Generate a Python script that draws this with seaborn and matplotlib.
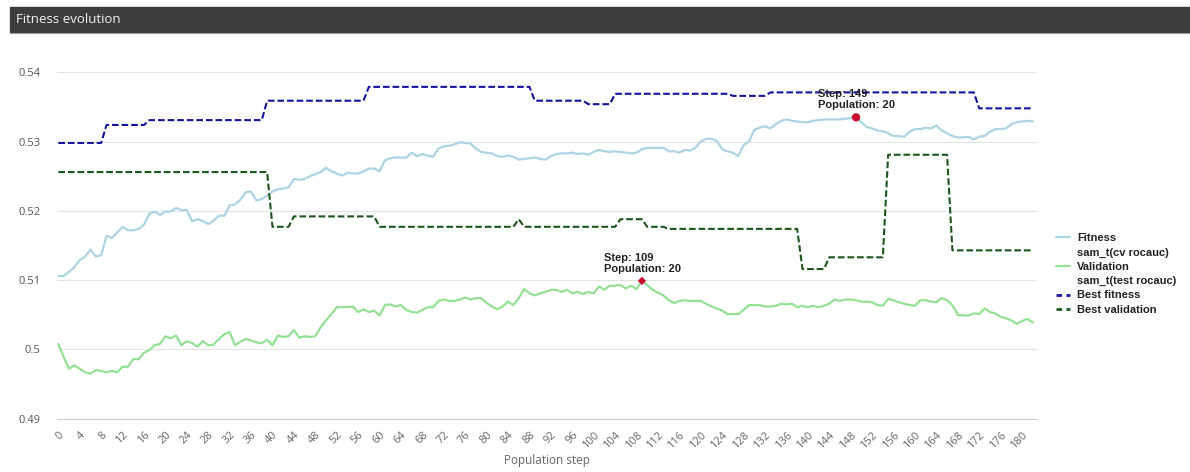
import numpy as np
import pandas as pd
import matplotlib
matplotlib.use("Agg")
import matplotlib.pyplot as plt
from matplotlib.lines import Line2D
from matplotlib.patches import Rectangle
import seaborn as sns

# ---------------- data ----------------
fitness = [
    0.5106, 0.5106, 0.5112, 0.5119, 0.5129, 0.5134, 0.5144, 0.5134, 0.5136, 0.5164,
    0.5161, 0.5169, 0.5177, 0.5172, 0.5172, 0.5174, 0.5180, 0.5196, 0.5199, 0.5194,
    0.5199, 0.5199, 0.5204, 0.5201, 0.5201, 0.5185, 0.5188, 0.5185, 0.5181, 0.5186,
    0.5193, 0.5193, 0.5208, 0.5209, 0.5216, 0.5227, 0.5228, 0.5215, 0.5217, 0.5222,
    0.5228, 0.5231, 0.5232, 0.5234, 0.5246, 0.5245, 0.5246, 0.5250, 0.5253, 0.5256,
    0.5262, 0.5257, 0.5254, 0.5251, 0.5255, 0.5254, 0.5254, 0.5257, 0.5261, 0.5261,
    0.5257, 0.5273, 0.5276, 0.5277, 0.5277, 0.5277, 0.5284, 0.5279, 0.5282, 0.5280,
    0.5278, 0.5290, 0.5293, 0.5294, 0.5296, 0.5299, 0.5298, 0.5297, 0.5290, 0.5285,
    0.5284, 0.5283, 0.5279, 0.5278, 0.5280, 0.5278, 0.5274, 0.5275, 0.5276, 0.5277,
    0.5275, 0.5274, 0.5279, 0.5282, 0.5283, 0.5283, 0.5284, 0.5282, 0.5283, 0.5281,
    0.5285, 0.5288, 0.5286, 0.5285, 0.5286, 0.5285, 0.5284, 0.5283, 0.5284, 0.5289,
    0.5291, 0.5291, 0.5291, 0.5291, 0.5286, 0.5286, 0.5284, 0.5288, 0.5287, 0.5291,
    0.5300, 0.5304, 0.5304, 0.5301, 0.5289, 0.5286, 0.5284, 0.5279, 0.5295, 0.5300,
    0.5317, 0.5320, 0.5322, 0.5319, 0.5325, 0.5330, 0.5332, 0.5330, 0.5329, 0.5328,
    0.5328, 0.5330, 0.5331, 0.5332, 0.5332, 0.5332, 0.5332, 0.5333, 0.5334, 0.5335,
    0.5328, 0.5321, 0.5319, 0.5316, 0.5315, 0.5312, 0.5308, 0.5308, 0.5307, 0.5314,
    0.5318, 0.5318, 0.5320, 0.5319, 0.5323, 0.5316, 0.5312, 0.5308, 0.5306, 0.5306,
    0.5307, 0.5303, 0.5307, 0.5308, 0.5314, 0.5318, 0.5318, 0.5319, 0.5325, 0.5328,
    0.5329, 0.5330, 0.5329,
]

validation = [
    0.5008, 0.4989, 0.4972, 0.4977, 0.4972, 0.4967, 0.4965, 0.4970, 0.4969, 0.4967,
    0.4969, 0.4967, 0.4975, 0.4975, 0.4986, 0.4986, 0.4995, 0.4999, 0.5006, 0.5008,
    0.5019, 0.5016, 0.5020, 0.5006, 0.5012, 0.5009, 0.5004, 0.5012, 0.5006, 0.5007,
    0.5015, 0.5022, 0.5025, 0.5006, 0.5011, 0.5015, 0.5013, 0.5010, 0.5009, 0.5014,
    0.5006, 0.5020, 0.5018, 0.5019, 0.5028, 0.5017, 0.5019, 0.5018, 0.5019, 0.5032,
    0.5042, 0.5051, 0.5061, 0.5061, 0.5061, 0.5062, 0.5054, 0.5058, 0.5054, 0.5056,
    0.5049, 0.5064, 0.5065, 0.5062, 0.5064, 0.5057, 0.5054, 0.5053, 0.5057, 0.5061,
    0.5061, 0.5070, 0.5072, 0.5070, 0.5070, 0.5072, 0.5075, 0.5072, 0.5074, 0.5074,
    0.5067, 0.5062, 0.5058, 0.5062, 0.5069, 0.5064, 0.5074, 0.5087, 0.5081, 0.5078,
    0.5081, 0.5083, 0.5086, 0.5086, 0.5083, 0.5086, 0.5081, 0.5083, 0.5080, 0.5083,
    0.5081, 0.5091, 0.5086, 0.5092, 0.5092, 0.5093, 0.5088, 0.5092, 0.5087, 0.5099,
    0.5093, 0.5086, 0.5082, 0.5078, 0.5071, 0.5067, 0.5070, 0.5071, 0.5070, 0.5070,
    0.5070, 0.5066, 0.5062, 0.5059, 0.5056, 0.5051, 0.5051, 0.5051, 0.5057, 0.5064,
    0.5064, 0.5064, 0.5062, 0.5062, 0.5063, 0.5066, 0.5065, 0.5066, 0.5061, 0.5063,
    0.5061, 0.5063, 0.5061, 0.5063, 0.5066, 0.5072, 0.5070, 0.5072, 0.5072, 0.5071,
    0.5069, 0.5069, 0.5068, 0.5064, 0.5063, 0.5073, 0.5071, 0.5068, 0.5066, 0.5064,
    0.5063, 0.5071, 0.5071, 0.5069, 0.5068, 0.5074, 0.5071, 0.5064, 0.5050, 0.5049,
    0.5049, 0.5052, 0.5051, 0.5059, 0.5054, 0.5052, 0.5047, 0.5045, 0.5042, 0.5037,
    0.5041, 0.5044, 0.5039,
]

# best-so-far curves: level values and the step where each level begins
best_fitness_levels = [0.5298, 0.5324, 0.5331, 0.5359, 0.5379, 0.5359, 0.5354,
                       0.5369, 0.5366, 0.5371, 0.5348]
best_fitness_starts = [0, 9, 17, 39, 58, 89, 99, 104, 126, 133, 172]

best_validation_levels = [0.5256, 0.5177, 0.5192, 0.5177, 0.5188, 0.5177, 0.5188,
                          0.5177, 0.5174, 0.5116, 0.5133, 0.5281, 0.5143]
best_validation_starts = [0, 40, 44, 60, 86, 87, 105, 110, 114, 139, 144, 155, 167]

population = 20
ytick_values = [0.49, 0.50, 0.51, 0.52, 0.53, 0.54]
ytick_labels = ["0.49", "0.5", "0.51", "0.52", "0.53", "0.54"]
xtick_step = 4

legend_labels = ["Fitness", "sam_t(cv rocauc)", "Validation", "sam_t(test rocauc)",
                 "Best fitness", "Best validation"]

# ---------------- build frame ----------------
n = len(fitness)
steps = np.arange(n)


def expand(levels, starts, total):
    lengths = np.diff(list(starts) + [total])
    return np.repeat(levels, lengths)


df = pd.DataFrame({
    "step": steps,
    "fitness": fitness,
    "validation": validation,
    "best_fitness": expand(best_fitness_levels, best_fitness_starts, n),
    "best_validation": expand(best_validation_levels, best_validation_starts, n),
})

# ---------------- style ----------------
sns.set_theme(style="white")
plt.rcParams['font.family'] = ['Open Sans', 'DejaVu Sans']

W, H = 1190, 472
fig = plt.figure(figsize=(W / 100, H / 100), dpi=100)
fig.patch.set_facecolor("white")

ax_left, ax_right, ax_bottom, ax_top = 57, 1037, 418.7, 55
ax = fig.add_axes([ax_left / W, 1 - ax_bottom / H,
                   (ax_right - ax_left) / W, (ax_bottom - ax_top) / H])
ax.set_facecolor("white")

c_fit = "#acd4e2"
c_val = "#93e193"
c_bfit = "#1515a0"
c_bval = "#1d561d"
dash = (0, (3.2, 1.4))

sns.lineplot(data=df, x="step", y="fitness", ax=ax, color=c_fit, lw=1.6,
             estimator=None, zorder=3)
sns.lineplot(data=df, x="step", y="validation", ax=ax, color=c_val, lw=1.6,
             estimator=None, zorder=3)
sns.lineplot(data=df, x="step", y="best_fitness", ax=ax, color=c_bfit, lw=1.5,
             linestyle=dash, estimator=None, zorder=4)
sns.lineplot(data=df, x="step", y="best_validation", ax=ax, color=c_bval, lw=1.5,
             linestyle=dash, estimator=None, zorder=4)

# highlighted maxima
i_fit = int(np.argmax(df["fitness"].values))
i_val = int(np.argmax(df["validation"].values))
sns.scatterplot(x=[i_fit], y=[df["fitness"].values[i_fit]], ax=ax, marker="o",
                s=36, color="#c8102e", edgecolor="none", zorder=6)
sns.scatterplot(x=[i_val], y=[df["validation"].values[i_val]], ax=ax, marker="D",
                s=18, color="#c8102e", edgecolor="none", zorder=6)

ann_font = dict(fontsize=8, fontweight="bold", color="#222222",
                family=["Liberation Sans", "DejaVu Sans"], linespacing=1.15)
for idx, col in ((i_fit, "fitness"), (i_val, "validation")):
    ax.annotate(f"Step: {idx}\nPopulation: {population}",
                xy=(idx, df[col].values[idx]), xytext=(-38, 7),
                textcoords="offset pixels", ha="left", va="bottom",
                zorder=7, **ann_font)

# axes
ax.set_xlim(-0.25, 182.8)
ax.set_ylim(0.49, 0.5425)
ax.set_yticks(ytick_values)
ax.set_yticklabels(ytick_labels)
xt = steps[::xtick_step]
ax.set_xticks(xt)
ax.set_xticklabels([str(v) for v in xt], rotation=45, ha="right",
                   rotation_mode="anchor")
ax.tick_params(axis="both", length=0, colors="#555555", labelsize=8)
ax.tick_params(axis="x", pad=8, colors="#666666")
ax.tick_params(axis="y", pad=12)
ax.grid(axis="y", color="#e3e3e3", lw=0.8)
ax.grid(axis="x", visible=False)
for s in ("top", "right", "left"):
    ax.spines[s].set_visible(False)
ax.spines["bottom"].set_color("#cfcfcf")
ax.spines["bottom"].set_linewidth(0.8)
ax.set_xlabel("Population step", fontsize=8.5, color="#666666", labelpad=2)
ax.set_ylabel("")

# legend with two-line labels (second line without a symbol)
handles = [
    Line2D([], [], color=c_fit, lw=1.6),
    Line2D([], [], color="none"),
    Line2D([], [], color=c_val, lw=1.6),
    Line2D([], [], color="none"),
    Line2D([], [], color=c_bfit, lw=2, linestyle=(0, (2.0, 1.6))),
    Line2D([], [], color=c_bval, lw=2, linestyle=(0, (2.0, 1.6))),
]
leg = fig.legend(handles, legend_labels, loc="center left",
                 bbox_to_anchor=(1056 / W, 1 - 274 / H), frameon=False,
                 borderpad=0, borderaxespad=0, handlelength=1.3,
                 handletextpad=0.6, labelspacing=0.38,
                 prop=dict(family=["Liberation Sans", "DejaVu Sans"],
                           weight="bold", size=8))
for t in leg.get_texts():
    t.set_color("#222222")

# title bar
fig.add_artist(Rectangle((10 / W, 1 - 32 / H), 1 - 10 / W, 25 / H,
                         transform=fig.transFigure, color="#3d3d3d", zorder=0))
fig.add_artist(Line2D([10 / W, 1], [1 - 32.5 / H, 1 - 32.5 / H],
                      transform=fig.transFigure, color="#9a9a9a", lw=0.8))
fig.text(16 / W, 1 - 19.5 / H, "Fitness evolution", color="#f2f2f2",
         fontsize=9.5, va="center", ha="left")

fig.savefig("out.png", dpi=100, facecolor=fig.get_facecolor())
